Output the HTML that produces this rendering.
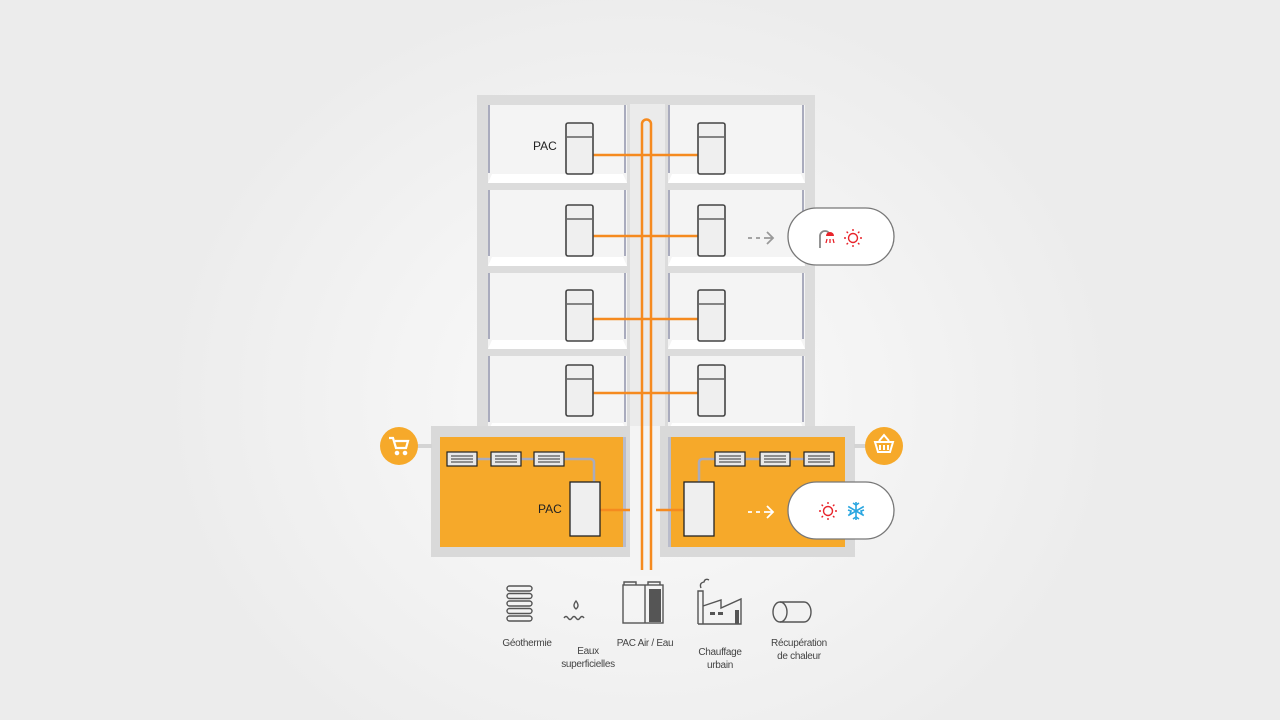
<!DOCTYPE html>
<html><head><meta charset="utf-8"><style>
html,body{margin:0;padding:0;width:1280px;height:720px;overflow:hidden}
body{background:radial-gradient(ellipse 480px 420px at 640px 400px,#fbfbfb 0%,#f3f3f3 55%,#ececec 100%)}
text{font-family:"Liberation Sans",sans-serif}
</style></head><body>
<svg width="1280" height="720" viewBox="0 0 1280 720" xmlns="http://www.w3.org/2000/svg">
<rect x="477" y="95" width="338" height="340" fill="#dcdcdc"/>
<rect x="630" y="104" width="35" height="330" fill="#ebebeb"/>
<g>
<g fill="#f4f4f4">
<rect x="488" y="105" width="139" height="78"/><rect x="488" y="190" width="139" height="76"/>
<rect x="488" y="273" width="139" height="76"/><rect x="488" y="356" width="139" height="76"/>
<rect x="668" y="105" width="137" height="78"/><rect x="668" y="190" width="137" height="76"/>
<rect x="668" y="273" width="137" height="76"/><rect x="668" y="356" width="137" height="76"/>
</g>
<g fill="#ffffff">
<polygon points="492,174 623,174 627,183 488,183"/><polygon points="492,257 623,257 627,266 488,266"/>
<polygon points="492,340 623,340 627,349 488,349"/><polygon points="492,423 623,423 627,432 488,432"/>
<polygon points="672,174 801,174 805,183 668,183"/><polygon points="672,257 801,257 805,266 668,266"/>
<polygon points="672,340 801,340 805,349 668,349"/><polygon points="672,423 801,423 805,432 668,432"/>
</g>
<g fill="#a9abbd">
<rect x="488" y="105" width="2" height="68"/><rect x="488" y="190" width="2" height="66"/><rect x="488" y="273" width="2" height="66"/><rect x="488" y="356" width="2" height="66"/>
<rect x="624" y="105" width="2" height="68"/><rect x="624" y="190" width="2" height="66"/><rect x="624" y="273" width="2" height="66"/><rect x="624" y="356" width="2" height="66"/>
<rect x="668" y="105" width="2" height="68"/><rect x="668" y="190" width="2" height="66"/><rect x="668" y="273" width="2" height="66"/><rect x="668" y="356" width="2" height="66"/>
<rect x="802" y="105" width="2" height="68"/><rect x="802" y="190" width="2" height="66"/><rect x="802" y="273" width="2" height="66"/><rect x="802" y="356" width="2" height="66"/>
</g>
</g>
<rect x="431" y="426" width="201" height="131" fill="#d9d9d9"/>
<rect x="440" y="437" width="186" height="110" fill="#f6a92a"/>
<rect x="623" y="437" width="3" height="110" fill="#b9bccb"/>
<rect x="660" y="426" width="195" height="131" fill="#d9d9d9"/>
<rect x="668" y="437" width="177" height="110" fill="#f6a92a"/>
<rect x="668" y="437" width="3" height="110" fill="#b9bccb"/>
<rect x="630" y="426" width="30" height="150" fill="#f4f4f4"/>
<rect x="416" y="444" width="16" height="4" fill="#d4d4d4"/>
<rect x="854" y="444" width="14" height="4" fill="#d4d4d4"/>
<g stroke="#f58a1f" stroke-width="2.5" fill="none">
<line x1="593" y1="155" x2="698" y2="155"/><line x1="593" y1="236" x2="698" y2="236"/>
<line x1="593" y1="319" x2="698" y2="319"/><line x1="593" y1="393" x2="698" y2="393"/>
<line x1="600" y1="510" x2="630" y2="510"/><line x1="656" y1="510" x2="684" y2="510"/>
<path d="M642,570 V124 a4.5,4.5 0 0 1 9,0 V570"/>
</g>
<g fill="#efefef" stroke="#444" stroke-width="1.6">
<rect x="566" y="123" width="27" height="51" rx="2"/><rect x="698" y="123" width="27" height="51" rx="2"/>
<rect x="566" y="205" width="27" height="51" rx="2"/><rect x="698" y="205" width="27" height="51" rx="2"/>
<rect x="566" y="290" width="27" height="51" rx="2"/><rect x="698" y="290" width="27" height="51" rx="2"/>
<rect x="566" y="365" width="27" height="51" rx="2"/><rect x="698" y="365" width="27" height="51" rx="2"/>
</g>
<g stroke="#444" stroke-width="1.3">
<line x1="567" y1="137" x2="592" y2="137"/><line x1="699" y1="137" x2="724" y2="137"/>
<line x1="567" y1="219" x2="592" y2="219"/><line x1="699" y1="219" x2="724" y2="219"/>
<line x1="567" y1="304" x2="592" y2="304"/><line x1="699" y1="304" x2="724" y2="304"/>
<line x1="567" y1="379" x2="592" y2="379"/><line x1="699" y1="379" x2="724" y2="379"/>
</g>
<text x="533" y="150" font-size="12" fill="#222">PAC</text>
<g stroke="#a9abbd" stroke-width="2.5" fill="none">
<path d="M477,459 H491 M521,459 H534 M564,459 H590 Q594,459 594,463 V482"/>
<path d="M745,459 H760 M790,459 H804 M715,459 H703 Q699,459 699,463 V482"/>
</g>
<g fill="#efefef" stroke="#222" stroke-width="1.3">
<rect x="570" y="482" width="30" height="54"/><rect x="684" y="482" width="30" height="54"/>
</g>
<g fill="#e8e8e8" stroke="#222" stroke-width="1.2">
<rect x="447" y="452" width="30" height="14"/><rect x="491" y="452" width="30" height="14"/><rect x="534" y="452" width="30" height="14"/>
<rect x="715" y="452" width="30" height="14"/><rect x="760" y="452" width="30" height="14"/><rect x="804" y="452" width="30" height="14"/>
</g>
<g stroke="#333" stroke-width="1">
<path d="M451,456h22M451,459h22M451,462h22 M495,456h22M495,459h22M495,462h22 M538,456h22M538,459h22M538,462h22 M719,456h22M719,459h22M719,462h22 M764,456h22M764,459h22M764,462h22 M808,456h22M808,459h22M808,462h22"/>
</g>
<text x="538" y="513" font-size="12" fill="#222">PAC</text>
<circle cx="399" cy="446" r="19" fill="#f6a92a"/>
<g fill="#fff" stroke="#fff">
<path d="M389,438 h4 l3,10 h10 l2,-7 h-13" fill="none" stroke-width="2.2"/>
<circle cx="397" cy="453" r="1.8"/><circle cx="405" cy="453" r="1.8"/>
</g>
<circle cx="884" cy="446" r="19" fill="#f6a92a"/>
<g stroke="#fff" fill="none" stroke-width="2">
<path d="M879,441 l5,-6 l5,6"/><path d="M875,442 h18 l-3,10 h-12 z"/><path d="M880,445v5M884,445v5M888,445v5"/>
</g>
<g stroke="#999" stroke-width="1.8" fill="none">
<path d="M748,238 h4 M756,238 h4 M764,238 h9"/><path d="M767,232 l6,6 l-6,6"/>
</g>
<g stroke="#fff" stroke-width="1.8" fill="none">
<path d="M748,512 h4 M756,512 h4 M764,512 h9"/><path d="M767,506 l6,6 l-6,6"/>
</g>
<rect x="788" y="208" width="106" height="57" rx="28.5" fill="#fff" stroke="#777" stroke-width="1.3"/>
<rect x="788" y="482" width="106" height="57" rx="28.5" fill="#fff" stroke="#777" stroke-width="1.3"/>
<path d="M820,248 v-12 a5,5 0 0 1 10,0" stroke="#888" stroke-width="1.8" fill="none"/>
<path d="M826,236 a4,4 0 0 1 8,0 z" fill="#e8242b"/>
<g stroke="#e8242b" stroke-width="1.3"><path d="M827,239l-1,4M830,239v4M833,239l1,4"/></g>
<g stroke="#e8242b" stroke-width="1.4" fill="none">
<circle cx="853" cy="238" r="4.5"/>
<path d="M853,229v2M853,245v2M844,238h2M860,238h2M846.6,231.6l1.4,1.4M858,243l1.4,1.4M846.6,244.4l1.4,-1.4M858,233l1.4,-1.4"/>
<circle cx="828" cy="511" r="4.5"/>
<path d="M828,502v2M828,518v2M819,511h2M835,511h2M821.6,504.6l1.4,1.4M833,516l1.4,1.4M821.6,517.4l1.4,-1.4M833,506l1.4,-1.4"/>
</g>
<g stroke="#2aa6e0" stroke-width="1.6" fill="none">
<path d="M856,502v18M848.2,506.5l15.6,9M848.2,515.5l15.6,-9"/>
<path d="M853,503l3,2l3,-2M853,519l3,-2l3,2M848,510l3,1l-1,3M864,510l-3,1l1,3"/>
</g>
<g stroke="#555" stroke-width="1.4" fill="none">
<rect x="507" y="586" width="25" height="5" rx="2.5"/>
<rect x="507" y="593.5" width="25" height="5" rx="2.5"/>
<rect x="507" y="601" width="25" height="5" rx="2.5"/>
<rect x="507" y="608.5" width="25" height="5" rx="2.5"/>
<rect x="507" y="616" width="25" height="5" rx="2.5"/>
<path d="M576,601 q-4,5 0,8 q4,-3 0,-8z"/>
<path d="M564,618 q2,-3 4,0 q2,3 4,0 q2,-3 4,0 q2,3 4,0 q2,-3 4,0"/>
<rect x="623" y="585" width="40" height="38"/>
<path d="M624,585 v-3 h12 v3 M648,585 v-3 h12 v3"/>
<line x1="645" y1="585" x2="645" y2="623"/>
<path d="M698,624 v-33 h5 v33 M703,606 l18,-6 v8 l20,-9 v25 h-43"/>
<path d="M701,588 q-2,-5 3,-6 q1,-4 5,-2"/>
<ellipse cx="780" cy="612" rx="7" ry="10"/>
<path d="M780,602 h24 a7,10 0 0 1 0,20 h-24"/>
</g>
<g fill="#555">
<rect x="649" y="589" width="12" height="33"/>
<rect x="710" y="612" width="5" height="3"/><rect x="718" y="612" width="5" height="3"/><rect x="735" y="610" width="4" height="14"/>
</g>
<g font-size="10" fill="#444" text-anchor="middle" letter-spacing="-0.3">
<text x="527" y="646">Géothermie</text>
<text x="588" y="654">Eaux</text><text x="588" y="667">superficielles</text>
<text x="645" y="646">PAC Air / Eau</text>
<text x="720" y="655">Chauffage</text><text x="720" y="668">urbain</text>
<text x="799" y="646">Récupération</text><text x="799" y="659">de chaleur</text>
</g>
</svg>
</body></html>
